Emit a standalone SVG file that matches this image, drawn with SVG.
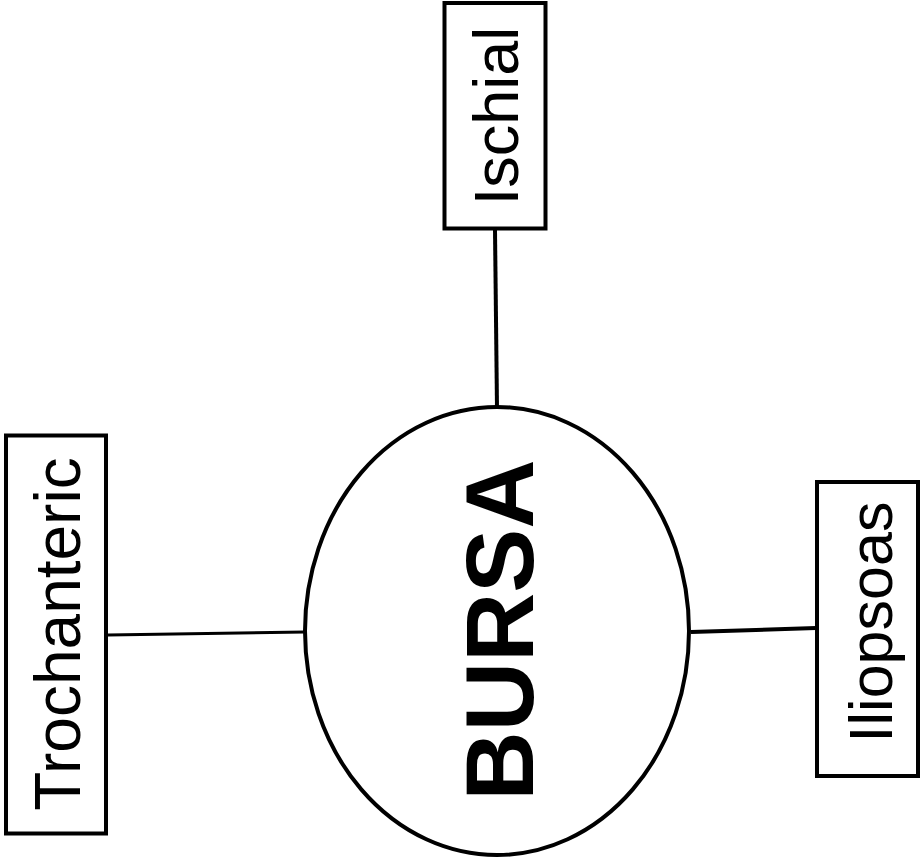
<svg xmlns="http://www.w3.org/2000/svg" width="921" height="868" viewBox="0 0 921 868">
<style>
.box{fill:#fff;stroke:#000;stroke-width:4}
.lbl{font-family:"Liberation Sans",Arial,sans-serif;font-size:62px;fill:#000;text-anchor:middle}
.conn{stroke:#000;fill:none}
</style>
<rect width="921" height="868" fill="#fff"/>
<g id="connectors">
<line class="conn" x1="495" y1="230" x2="497" y2="408" stroke-width="4"/>
<line class="conn" x1="108" y1="635" x2="305" y2="632" stroke-width="3"/>
<line class="conn" x1="691" y1="632" x2="816" y2="628" stroke-width="4"/>
</g>
<g id="bursa">
<ellipse cx="497" cy="631" rx="192" ry="224" fill="#fff" stroke="#000" stroke-width="4"/>
<text transform="translate(533,630) rotate(-90)" style="font-family:'Liberation Sans',Arial,sans-serif;font-size:96px;font-weight:bold;text-anchor:middle">BURSA</text>
</g>
<g id="ischial">
<rect class="box" x="444.5" y="3" width="101" height="225.5"/>
<text class="lbl" transform="translate(518,116) rotate(-90)" style="font-size:63px">Ischial</text>
</g>
<g id="trochanteric">
<rect class="box" x="6" y="435.5" width="100" height="398"/>
<text class="lbl" transform="translate(80,634) rotate(-90)" style="font-size:64px">Trochanteric</text>
</g>
<g id="iliopsoas">
<rect class="box" x="817" y="482" width="101" height="294"/>
<text class="lbl" transform="translate(892,622) rotate(-90)" style="font-size:61px">Iliopsoas</text>
</g>
</svg>
